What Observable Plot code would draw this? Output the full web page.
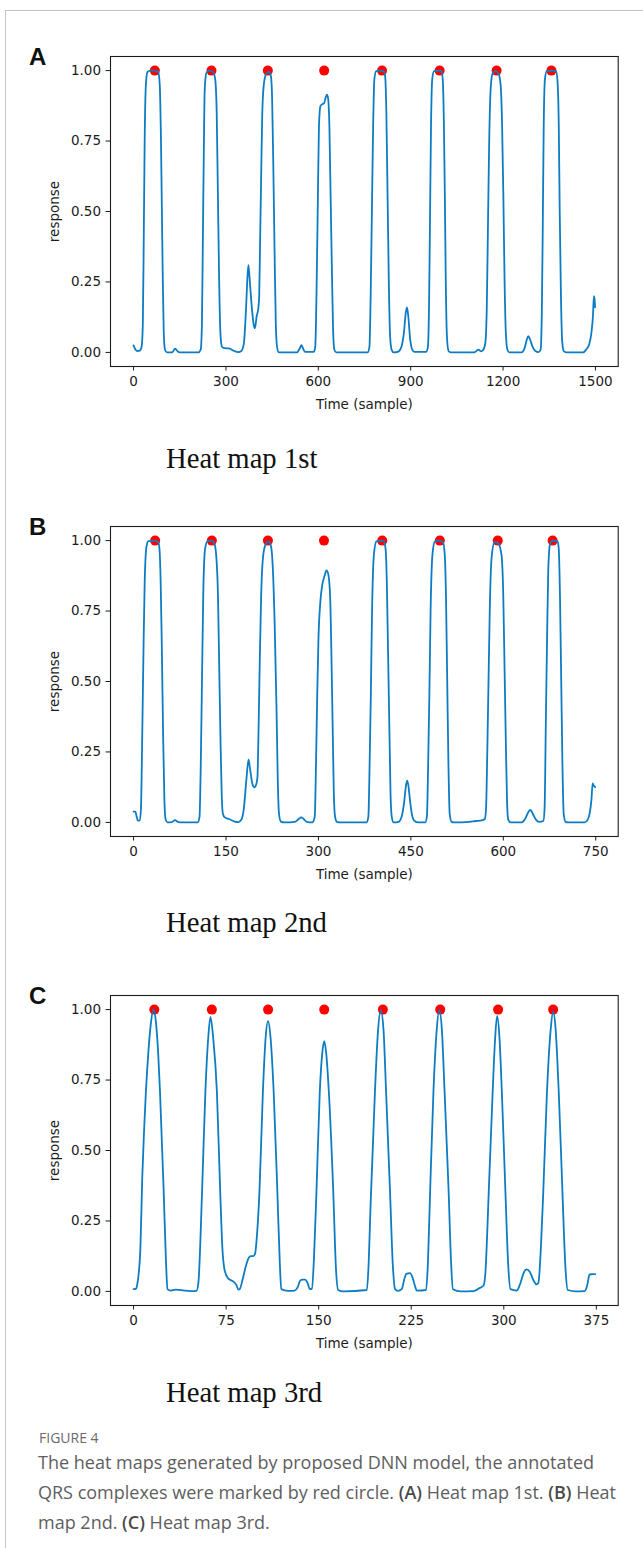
<!DOCTYPE html>
<html>
<head>
<meta charset="utf-8">
<script src="https://cdn.jsdelivr.net/npm/d3@7"></script>
<script src="https://cdn.jsdelivr.net/npm/@observablehq/plot@0.6"></script>
<style>
  html, body { margin: 0; padding: 0; background: #fff; }
  #root { position: relative; width: 643px; height: 1548px; overflow: hidden; background: #fff; }
  .frameline { position: absolute; left: 5px; top: 10px; width: 700px; height: 1600px; border-top: 1px solid #c4c4c4; border-left: 1px solid #c4c4c4; }
  .panel { position: absolute; left: 0; }
  .letter { position: absolute; font-family: "Liberation Sans", Arial, sans-serif; font-weight: bold; font-size: 24px; line-height: 24px; color: #111; }
  .hm { position: absolute; left: 166px; font-family: "Liberation Serif", "Times New Roman", serif; font-size: 28.7px; line-height: 28.7px; color: #111; white-space: nowrap; }
  .figlab { position: absolute; left: 39px; top: 1431px; font-family: "Open Sans", sans-serif; font-size: 14px; line-height: 14px; color: #6a6a6a; }
  .cap { position: absolute; left: 38px; top: 1447px; font-family: "Open Sans", sans-serif; font-size: 18px; line-height: 30px; color: #5e5e5e; white-space: nowrap; }
  .cap b { font-weight: 600; color: #4a4a4a; }
</style>
</head>
<body>
<div id="root">
  <div class="frameline"></div>
</div>
<script>
// ---------- data ----------
const panelLetters = ["A", "B", "C"];
const panelTitles = ["Heat map 1st", "Heat map 2nd", "Heat map 3rd"];
const yTicks = [0, 0.25, 0.5, 0.75, 1.0];
const xTicksA = [0, 300, 600, 900, 1200, 1500];
const xTicksB = [0, 150, 300, 450, 600, 750];
const xTicksC = [0, 75, 150, 225, 300, 375];

// annotated QRS positions (red circles), response = 1.0
const qrsA = [69, 253, 436, 619, 807, 994, 1179, 1357];
const qrsB = [35, 127, 218, 309, 403.5, 497, 591, 680];
const qrsC = [16.8, 63.4, 109, 154.5, 202, 248.5, 295.4, 340];

// heat map response curves [sample, response]
const curveA = [[0,0.025],[5,0.012],[12,0.005],[20,0.006],[26,0.02],[30,0.1],[33,0.4],[36,0.75],[40,0.95],[45,0.995],[55,1.0],[70,1.0],[80,0.995],[85,0.95],[89,0.75],[92,0.5],[95,0.25],[98,0.07],[102,0.01],[108,0.0],[125,0.0],[135,0.013],[145,0.002],[155,0],[210,0],[218,0.01],[222,0.1],[225,0.4],[228,0.7],[231,0.93],[236,0.99],[245,1.0],[258,0.995],[265,0.97],[270,0.85],[274,0.55],[278,0.25],[282,0.07],[287,0.02],[295,0.015],[310,0.014],[325,0.006],[340,0.001],[350,0.005],[358,0.03],[365,0.15],[370,0.27],[373,0.31],[377,0.26],[384,0.16],[390,0.1],[394,0.086],[400,0.13],[405,0.155],[408,0.2],[411,0.4],[414,0.6],[418,0.85],[424,0.96],[432,0.99],[440,0.995],[446,0.98],[450,0.9],[454,0.65],[458,0.35],[462,0.1],[466,0.02],[472,0.0],[530,0],[540,0.015],[545,0.026],[550,0.015],[557,0.002],[585,0.002],[590,0.02],[594,0.2],[598,0.5],[602,0.8],[607,0.875],[612,0.88],[619,0.885],[624,0.905],[628,0.915],[632,0.9],[636,0.8],[640,0.55],[644,0.3],[648,0.08],[652,0.01],[658,0],[760,0],[766,0.02],[770,0.2],[774,0.5],[778,0.8],[782,0.97],[788,0.998],[800,1.0],[812,0.998],[817,0.98],[821,0.85],[825,0.55],[829,0.25],[833,0.06],[838,0.01],[845,0],[860,0.003],[870,0.02],[878,0.07],[884,0.14],[888,0.16],[892,0.13],[898,0.05],[905,0.01],[912,0.002],[950,0.002],[956,0.02],[960,0.2],[963,0.5],[966,0.8],[970,0.97],[976,0.998],[990,1.0],[1000,0.998],[1004,0.97],[1008,0.8],[1011,0.55],[1014,0.25],[1018,0.05],[1023,0.005],[1030,0],[1105,0],[1112,0.004],[1120,0.01],[1128,0.004],[1135,0.008],[1142,0.03],[1147,0.15],[1151,0.45],[1155,0.75],[1160,0.94],[1166,0.99],[1175,0.998],[1185,0.99],[1192,0.95],[1197,0.8],[1201,0.55],[1205,0.25],[1209,0.07],[1214,0.01],[1220,0],[1260,0],[1270,0.015],[1277,0.045],[1282,0.058],[1288,0.045],[1296,0.02],[1305,0.005],[1315,0.001],[1322,0.01],[1326,0.15],[1329,0.45],[1332,0.8],[1336,0.97],[1342,0.998],[1360,1.0],[1372,0.998],[1377,0.96],[1381,0.8],[1384,0.5],[1388,0.2],[1392,0.04],[1397,0.005],[1405,0],[1460,0],[1470,0.01],[1480,0.03],[1487,0.07],[1492,0.13],[1495,0.2],[1497,0.19],[1499,0.16]];

const curveB = [[0,0.038],[3,0.038],[5,0.02],[7,0.006],[10,0.008],[12,0.05],[14,0.3],[16,0.6],[18,0.85],[21,0.98],[24,0.998],[33,1.0],[40,0.995],[42,0.97],[44,0.85],[46,0.6],[48,0.3],[50,0.08],[52,0.01],[55,0],[62,0.001],[67,0.008],[72,0.002],[78,0],[104,0],[107,0.02],[109,0.2],[111,0.5],[113,0.8],[116,0.97],[120,0.998],[126,1.0],[131,0.99],[134,0.95],[137,0.8],[139,0.55],[141,0.3],[143,0.1],[145,0.03],[148,0.018],[155,0.012],[163,0.004],[170,0.001],[175,0.01],[179,0.05],[183,0.15],[186.5,0.223],[189,0.19],[193,0.135],[196,0.124],[199,0.135],[201,0.16],[203,0.35],[205,0.6],[207,0.8],[210,0.94],[214,0.985],[219,0.997],[223,0.98],[226,0.9],[229,0.7],[232,0.4],[234,0.15],[236,0.03],[239,0.003],[245,0],[262,0.002],[268,0.012],[272,0.018],[276,0.012],[281,0.002],[290,0],[294,0.02],[296,0.2],[298,0.45],[300,0.65],[303,0.78],[306,0.84],[310,0.875],[313,0.894],[316,0.88],[319,0.8],[321,0.6],[323,0.35],[325,0.1],[327,0.02],[330,0.002],[335,0],[378,0],[381,0.02],[383,0.2],[385,0.45],[387,0.75],[390,0.95],[394,0.997],[400,1.0],[406,0.998],[409,0.97],[411,0.85],[413,0.6],[415,0.35],[417,0.1],[419,0.02],[422,0],[430,0.002],[435,0.02],[439,0.07],[442,0.13],[444,0.148],[446,0.13],[449,0.07],[452,0.025],[456,0.005],[462,0],[473,0],[476,0.02],[478,0.2],[480,0.45],[482,0.75],[485,0.95],[489,0.997],[495,1.0],[502,0.995],[505,0.95],[507,0.8],[509,0.5],[511,0.2],[513,0.03],[516,0.002],[520,0],[545,0.002],[555,0.005],[565,0.007],[570,0.012],[572,0.05],[574,0.25],[576,0.5],[578,0.75],[581,0.94],[586,0.995],[592,0.99],[597,0.95],[600,0.8],[602,0.55],[604,0.3],[606,0.08],[608,0.01],[612,0],[630,0],[636,0.015],[641,0.038],[644,0.044],[648,0.03],[653,0.01],[658,0.002],[665,0.005],[667,0.05],[669,0.35],[671,0.65],[673,0.9],[676,0.99],[680,1.0],[688,0.998],[690,0.97],[692,0.8],[694,0.5],[696,0.2],[698,0.03],[701,0.002],[705,0],[732,0],[737,0.01],[740,0.03],[743,0.08],[745,0.138],[747,0.13],[749,0.125]];

const curveC = [[0,0.008],[2,0.01],[3,0.025],[4.5,0.08],[5.5,0.15],[7,0.4],[8.5,0.57],[10,0.71],[12,0.85],[14,0.95],[16,1.0],[18,0.96],[20,0.84],[21.4,0.71],[24.4,0.355],[26.3,0.1],[27.5,0.008],[30,0.003],[34,0.006],[40,0.004],[46,0.001],[51,0.002],[52.5,0.03],[55.5,0.355],[58.2,0.71],[60.5,0.9],[62.3,0.974],[64.5,0.9],[67.5,0.71],[70.2,0.355],[72,0.15],[73.7,0.077],[76.4,0.047],[80.5,0.036],[83.2,0.024],[85,0.006],[86,0.008],[88.6,0.047],[91,0.09],[93.5,0.12],[95,0.125],[97,0.125],[98.5,0.135],[100,0.2],[102,0.355],[104.8,0.71],[107,0.9],[109,0.959],[111,0.9],[113.5,0.71],[116.5,0.355],[118.5,0.1],[119.7,0.008],[125,0.002],[130.5,0.003],[133,0.015],[134.7,0.036],[136.5,0.042],[139,0.042],[141,0.03],[142.8,0.008],[144.5,0.01],[146.2,0.12],[148.2,0.355],[150.9,0.71],[153,0.85],[154.5,0.888],[156.2,0.84],[158.2,0.71],[161.8,0.355],[164,0.08],[165.8,0.005],[170,0],[189,0.005],[190.5,0.1],[192,0.3],[195.6,0.71],[198,0.92],[200.3,0.998],[202.5,0.93],[204.6,0.71],[207.8,0.355],[210,0.1],[211.9,0.008],[214,0.002],[217.3,0.008],[219.5,0.045],[221,0.062],[224,0.065],[226,0.05],[228,0.02],[229.5,0.003],[237,0.005],[238.5,0.1],[240.3,0.355],[243,0.71],[245.5,0.92],[247.7,0.998],[249.8,0.93],[252,0.71],[255.3,0.355],[257.3,0.1],[258.8,0.008],[265,0],[275.5,0.001],[279.7,0.01],[283.5,0.02],[285,0.06],[286.5,0.2],[287.8,0.355],[291,0.71],[293,0.9],[294.6,0.978],[296.5,0.9],[298.4,0.71],[301.3,0.355],[303.5,0.1],[305.4,0.008],[310.5,0.003],[313.5,0.03],[316,0.065],[318.5,0.078],[321,0.07],[324,0.04],[326.5,0.025],[328,0.03],[330,0.15],[332,0.355],[335,0.71],[338,0.93],[340,0.994],[342,0.93],[344.5,0.71],[347.5,0.355],[350,0.08],[351.8,0.005],[358,0],[365.5,0.001],[367.5,0.02],[369.5,0.06],[372,0.061],[374,0.061]];

const captionLabel = "FIGURE 4";
const captionLines = [
  "The heat maps generated by proposed DNN model, the annotated",
  "QRS complexes were marked by red circle. <b>(A)</b> Heat map 1st. <b>(B)</b> Heat",
  "map 2nd. <b>(C)</b> Heat map 3rd."
];

// ---------- drawing ----------
const root = document.getElementById("root");
const lineColor = "#0d7cc2";
const textColor = "#1c1c1c";

function panel(curve, qrs, nSamples, xTicks) {
  const pad = 0.05 * (nSamples - 1);
  return Plot.plot({
    width: 643,
    height: 376,
    marginLeft: 110,
    marginRight: 25.3,
    marginTop: 16,
    marginBottom: 50,
    x: { domain: [-pad, nSamples - 1 + pad] },
    y: { domain: [-0.05, 1.05] },
    style: { fontFamily: "DejaVu Sans, sans-serif", fontSize: "13.5px", color: textColor, background: "transparent", overflow: "visible" },
    marks: [
      Plot.axisY({ ticks: yTicks, tickFormat: d3.format(".2f"), tickSize: 4.5, tickPadding: 5, fontSize: 13.5,
                   label: "response", labelAnchor: "center", labelArrow: "none", labelOffset: 61 }),
      Plot.axisX({ ticks: xTicks, tickFormat: d3.format("d"), tickSize: 4.5, tickPadding: 5, fontSize: 13.5,
                   label: "Time (sample)", labelAnchor: "center", labelArrow: "none", labelOffset: 42 }),
      Plot.dot(qrs, { x: d => d, y: () => 1.0, r: 5, fill: "#ff0000", stroke: "none" }),
      Plot.line(curve, { x: d => d[0], y: d => d[1], stroke: lineColor, strokeWidth: 1.8, curve: "monotone-x" }),
      Plot.frame({ stroke: textColor, strokeWidth: 1.1 })
    ]
  });
}

const panels = [
  { curve: curveA, qrs: qrsA, n: 1500, ticks: xTicksA, top: 40 },
  { curve: curveB, qrs: qrsB, n: 750, ticks: xTicksB, top: 510 },
  { curve: curveC, qrs: qrsC, n: 375, ticks: xTicksC, top: 979 }
];
const letterTops = [45, 515, 984];
const titleTops = [444, 908, 1378];

panels.forEach((p, i) => {
  const wrap = document.createElement("div");
  wrap.className = "panel";
  wrap.style.top = p.top + "px";
  wrap.appendChild(panel(p.curve, p.qrs, p.n, p.ticks));
  root.appendChild(wrap);

  const letter = document.createElement("div");
  letter.className = "letter";
  letter.style.left = "29px";
  letter.style.top = letterTops[i] + "px";
  letter.textContent = panelLetters[i];
  root.appendChild(letter);

  const t = document.createElement("div");
  t.className = "hm";
  t.style.top = titleTops[i] + "px";
  t.textContent = panelTitles[i];
  root.appendChild(t);
});

const fl = document.createElement("div");
fl.className = "figlab";
fl.textContent = captionLabel;
root.appendChild(fl);

const cap = document.createElement("div");
cap.className = "cap";
cap.innerHTML = captionLines.join("<br>");
root.appendChild(cap);
</script>
</body>
</html>
